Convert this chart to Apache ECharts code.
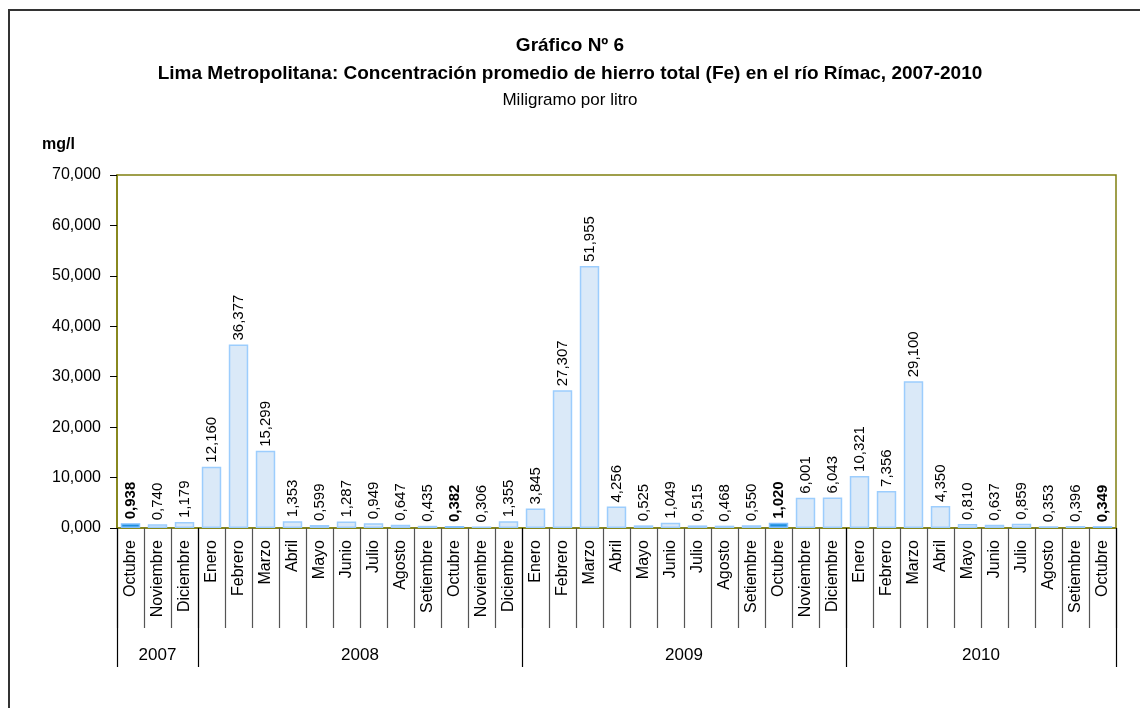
<!DOCTYPE html>
<html><head><meta charset="utf-8">
<script src="https://cdn.jsdelivr.net/npm/echarts@6/dist/echarts.min.js"></script>
<style>html,body{margin:0;padding:0;background:#fff}#c{width:1140px;height:708px}</style>
</head><body><div id="c"></div>
<script>
const months = ['Octubre','Noviembre','Diciembre','Enero','Febrero','Marzo','Abril','Mayo','Junio','Julio','Agosto','Setiembre','Octubre','Noviembre','Diciembre','Enero','Febrero','Marzo','Abril','Mayo','Junio','Julio','Agosto','Setiembre','Octubre','Noviembre','Diciembre','Enero','Febrero','Marzo','Abril','Mayo','Junio','Julio','Agosto','Setiembre','Octubre'];
const values = [0.938,0.740,1.179,12.160,36.377,15.299,1.353,0.599,1.287,0.949,0.647,0.435,0.382,0.306,1.355,3.845,27.307,51.955,4.256,0.525,1.049,0.515,0.468,0.550,1.020,6.001,6.043,10.321,7.356,29.100,4.350,0.810,0.637,0.859,0.353,0.396,0.349];
const highlighted = [0,12,24,36];
const years = ['2007','2008','2009','2010'];
const yearMonthCounts = [3,12,12,10];
const yTicks = [0,10,20,30,40,50,60,70];

const FONT = "'Liberation Sans', Arial, sans-serif";
const NARROW = "'Liberation Sans Narrow', 'Liberation Sans', Arial, sans-serif";
const fmt = v => v.toFixed(3).replace('.', ',');

// year axis on half-month points (boundaryGap false)
const halfCount = months.length * 2;
const yearAxisData = [];
for (let i = 0; i <= halfCount; i++) yearAxisData.push('');
const yearTickIdx = {0: true};
const yearLabelIdx = {};
let acc = 0;
yearMonthCounts.forEach((n, k) => {
  yearLabelIdx[acc + n] = years[k];
  acc += 2 * n;
  yearTickIdx[acc] = true;
});
for (const k in yearLabelIdx) yearAxisData[k] = yearLabelIdx[k];

const barData = values.map((v, i) => {
  const hl = highlighted.includes(i);
  return {
    value: v,
    itemStyle: hl ? {color: '#1f8fdc', borderColor: '#80c0ff', borderWidth: 1.5}
                  : {color: '#dae9f8', borderColor: '#9ccdfd', borderWidth: 1.5},
    label: {fontWeight: hl ? 'bold' : 'normal'}
  };
});

const chart = echarts.init(document.getElementById('c'));
chart.setOption({
  animation: false,
  title: [
    {text: 'Gráfico Nº 6', left: 'center', top: 36, padding: 0, textStyle: {fontFamily: NARROW, fontSize: 19, fontWeight: 'bold', color: '#000'}},
    {text: 'Lima Metropolitana: Concentración promedio de hierro total (Fe) en el río Rímac, 2007-2010', left: 'center', top: 64, padding: 0, textStyle: {fontFamily: NARROW, fontSize: 19, fontWeight: 'bold', color: '#000'}},
    {text: 'Miligramo por litro', left: 'center', top: 92, padding: 0, textStyle: {fontFamily: NARROW, fontSize: 17, fontWeight: 'normal', color: '#000'}},
    {text: 'mg/l', left: 42, top: 137, padding: 0, textStyle: {fontFamily: NARROW, fontSize: 16, fontWeight: 'bold', color: '#000'}}
  ],
  graphic: [
    {type: 'line', shape: {x1: 8, y1: 10, x2: 1140, y2: 10}, style: {stroke: '#333', lineWidth: 2}},
    {type: 'line', shape: {x1: 9, y1: 10, x2: 9, y2: 708}, style: {stroke: '#333', lineWidth: 2}}
  ],
  grid: {left: 117, right: 24, top: 175, bottom: 180, show: true, borderColor: '#808010', borderWidth: 1.5, backgroundColor: 'transparent'},
  xAxis: [
    {
      type: 'category', data: months, position: 'bottom',
      axisLine: {show: true, lineStyle: {color: '#808010', width: 1.5}},
      axisTick: {show: true, interval: 0, length: 100, lineStyle: {color: '#555', width: 1.2}},
      axisLabel: {interval: 0, rotate: 90, margin: 12, fontFamily: FONT, fontSize: 16, color: '#000'}
    },
    {
      type: 'category', data: yearAxisData, position: 'bottom', boundaryGap: false,
      axisLine: {show: false},
      axisTick: {show: true, length: 139, interval: (i) => !!yearTickIdx[i], lineStyle: {color: '#000', width: 1.2}},
      axisLabel: {interval: (i, v) => v !== '', margin: 119, fontFamily: FONT, fontSize: 17, color: '#000'}
    }
  ],
  yAxis: {
    type: 'value', min: 0, max: 70, interval: 10,
    axisLine: {show: true, lineStyle: {color: '#808010', width: 1.5}},
    axisTick: {show: true, length: 7, lineStyle: {color: '#000'}},
    splitLine: {show: false},
    axisLabel: {formatter: v => yTicks.includes(v) ? fmt(v) : '', fontFamily: FONT, fontSize: 16, color: '#000', margin: 16}
  },
  series: [{
    type: 'bar', xAxisIndex: 0, data: barData, barCategoryGap: '28%',
    label: {show: true, position: 'top', rotate: 90, align: 'left', verticalAlign: 'middle', distance: 4,
            formatter: p => fmt(p.value), fontFamily: FONT, fontSize: 15, color: '#000'}
  }]
});
</script></body></html>
